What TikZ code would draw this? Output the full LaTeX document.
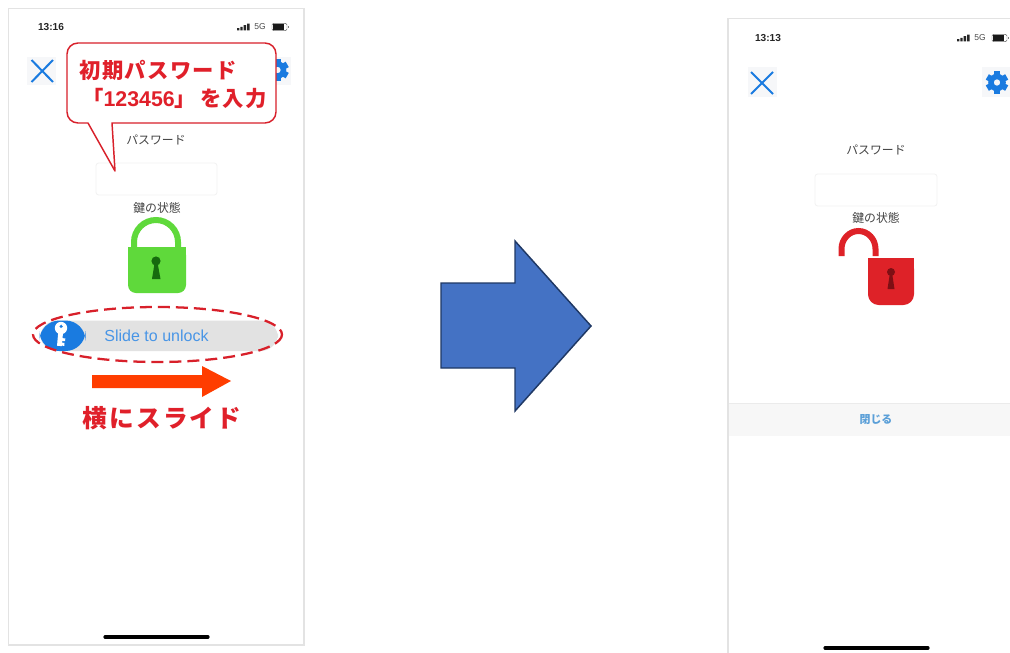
\documentclass[tikz,border=0pt]{standalone}
\usepackage{fontspec}
\setmainfont{Liberation Sans}
\newfontfamily\cjk{Noto Sans CJK JP}
\newfontfamily\cjkwide[LetterSpace=6]{Noto Sans CJK JP}
\newfontfamily\cjkslide[LetterSpace=9]{Noto Sans CJK JP}
\definecolor{framegray}{HTML}{E3E3E3}
\definecolor{iconbg}{HTML}{F6F7F9}
\definecolor{iosblue}{HTML}{1A7BE0}
\definecolor{calloutred}{HTML}{D8202A}
\definecolor{textred}{HTML}{E0202A}
\definecolor{slidegray}{HTML}{E2E2E2}
\definecolor{lockgreen}{HTML}{5FD93B}
\definecolor{keygreen}{HTML}{166B0E}
\definecolor{lockred}{HTML}{DE2228}
\definecolor{keyred}{HTML}{7E0F14}
\definecolor{arrowblue}{HTML}{4472C4}
\definecolor{arrowedge}{HTML}{1F3864}
\definecolor{slidearrow}{HTML}{FF3D00}
\definecolor{closebar}{HTML}{F7F7F7}
\definecolor{closetext}{HTML}{5A9FD8}
\definecolor{inputline}{HTML}{F2F2F2}
\definecolor{labeltext}{HTML}{444444}
\tikzset{
  x=0.75pt,y=-0.75pt,
  phone/.style={draw=framegray,line width=1.1pt,fill=white},
  clock/.style={font=\fontsize{7.6pt}{9pt}\selectfont\bfseries,text=black!85,inner sep=0pt},
  fiveg/.style={font=\fontsize{6.4pt}{8pt}\selectfont,text=black!70,inner sep=0pt},
  jplabel/.style={font=\cjk\fontsize{8.9pt}{10pt}\selectfont,text=labeltext,inner sep=0pt},
  inputbox/.style={draw=inputline,line width=.6pt,rounded corners=2pt,fill=white},
  closeicon/.style={draw=iosblue,line width=1.5pt},
  homebar/.style={draw=black,line width=2.4pt,line cap=round},
  callouttext/.style={font=\cjkwide\bfseries\fontsize{16pt}{18pt}\selectfont,text=textred,inner sep=0pt},
}
\newcommand{\gearicon}[2]{%
  \begin{scope}[shift={(#1,#2)}]
    \foreach \a in {0,60,...,300}{\fill[iosblue,rotate=\a] (-3.1,-11.2) rectangle (3.1,-5);}
    \fill[iosblue,even odd rule] (0,0) circle[radius=8.8] (0,0) circle[radius=3.3];
  \end{scope}}
\newcommand{\statusicons}[2]{%
  \begin{scope}[shift={(#1,#2)}]
    \fill[black!85] (0,1) rectangle (2.4,3.4) (3.3,-.2) rectangle (5.7,3.4) (6.6,-1.8) rectangle (9,3.4) (10,-3.4) rectangle (12.6,3.4);
    \node[fiveg,anchor=west] (five#1) at (17,0) {5G};
    \draw[black!60,line width=.35pt,rounded corners=1pt] (35,-3.6) rectangle (50,3.6);
    \fill[black!90] (35.5,-3.2) rectangle (47,3.2);
    \fill[black!50] (51,-1.3) rectangle (52,1.3);
  \end{scope}}
\begin{document}
\begin{tikzpicture}
\useasboundingbox (0,0) rectangle (1010,653);
\fill[white] (0,0) rectangle (1010,653);

% left phone
\draw[phone] (8.5,8.5) rectangle (304,645);
\node[clock] (timeL) at (51,27) {13:16};
\statusicons{237}{27}
\fill[iconbg] (27,57) rectangle (56,85);
\draw[closeicon] (31.5,60) -- (53,82) (53,60) -- (31.5,82);
\fill[iconbg] (268,57) rectangle (291,85);
\gearicon{277.5}{70}
\node[jplabel] (pwL) at (156,140) {パスワード};
\draw[inputbox] (96,163) rectangle (217,195);
\node[jplabel] (stateL) at (157,208) {鍵の状態};
% callout
\draw[calloutred,line width=1.1pt,fill=white,line join=round]
  (78,43) -- (265,43) arc[start angle=-90,end angle=0,radius=11] -- (276,112)
  arc[start angle=0,end angle=90,radius=11] -- (112,123) -- (115,171) -- (88,123) -- (78,123)
  arc[start angle=90,end angle=180,radius=11] -- (67,54) arc[start angle=180,end angle=270,radius=11] -- cycle;
\node[callouttext,anchor=west] (c1) at (79.5,70) {初期パスワード};
\node[callouttext,anchor=west] (c2) at (82,98) {「{\setmainfont{Liberation Sans}\fontsize{16pt}{18pt}\selectfont\bfseries 123456}」\hspace{3pt}を入力};
% green lock
\draw[lockgreen,line width=4.5pt] (134,248) -- (134,242) arc[start angle=180,end angle=360,x radius=22,y radius=22] -- (178,248);
\fill[lockgreen,rounded corners=6pt] (128,247) -- (186,247) -- (186,293) -- (128,293) -- cycle;
\fill[lockgreen] (128,247) rectangle (186,262);
\fill[keygreen] (156,261) circle[radius=4.6] (154.6,263) -- (157.6,263) -- (160.5,279) -- (152,279) -- cycle;
% slider
\fill[slidegray,rounded corners=13pt] (40,320.5) rectangle (278,351);
\fill[iosblue,rounded corners=15pt] (39.5,320.5) rectangle (85.5,351);
\begin{scope}[shift={(61,328)},rotate=-5]
  \fill[white] (0,0) circle[radius=6.2];
  \fill[white] (-2.4,3) rectangle (2.4,18);
  \fill[white] (2,10) rectangle (5.2,12.8) (2,14.5) rectangle (4.8,17.5);
  \fill[iosblue] (0,-1.6) circle[radius=1.7];
\end{scope}
\node[font=\fontsize{12pt}{14pt}\selectfont,text=iosblue!80!white,inner sep=0pt] (slide) at (156.5,336) {Slide to unlock};
\draw[calloutred,line width=1.7pt,dash pattern=on 9pt off 4.5pt] (157.5,334.5) ellipse[x radius=124.5,y radius=27.5];
\fill[slidearrow] (92,375) -- (202,375) -- (202,366) -- (231,381) -- (202,397) -- (202,388) -- (92,388) -- cycle;
\node[font=\cjkslide\bfseries\fontsize{18.5pt}{20pt}\selectfont,text=textred,inner sep=0pt] (slidelabel) at (162,418) {横にスライド};
\draw[homebar] (105,637) -- (208,637);

% big arrow
\draw[arrowedge,fill=arrowblue,line width=1.1pt,line join=miter] (441,283) -- (515,283) -- (515,241) -- (591,326) -- (515,411) -- (515,368) -- (441,368) -- cycle;

% right phone
\fill[white] (728,18) rectangle (1010,653);
\draw[framegray,line width=1.1pt] (728,653) -- (728,18.5) -- (1010,18.5);
\node[clock] (timeR) at (768,38) {13:13};
\statusicons{957}{38}
\fill[iconbg] (748,67) rectangle (777,97);
\draw[closeicon] (751,72) -- (773,94) (773,72) -- (751,94);
\fill[iconbg] (982,67) rectangle (1010,97);
\gearicon{997}{82.5}
\node[jplabel] (pwR) at (876,150) {パスワード};
\draw[inputbox] (815,174) rectangle (937,206);
\node[jplabel] (stateR) at (876,218) {鍵の状態};
% red lock
\draw[lockred,line width=4.5pt] (841.5,256) -- (841.5,249) arc[start angle=180,end angle=360,x radius=17,y radius=18] -- (875.5,256);
\fill[lockred,rounded corners=8pt] (868,258) -- (914,258) -- (914,305) -- (868,305) -- cycle;
\fill[lockred] (868,258) rectangle (914,275);
\fill[keyred] (891,272) circle[radius=4] (889.8,274) -- (892.2,274) -- (894.5,289) -- (887.5,289) -- cycle;
% close bar
\fill[closebar] (728.5,403) rectangle (1010,436);
\draw[black!8,line width=.5pt] (728.5,403) -- (1010,403);
\node[font=\cjk\bfseries\fontsize{8.2pt}{10pt}\selectfont,text=closetext,inner sep=0pt] (closeR) at (876,420) {閉じる};
\draw[homebar] (825,648) -- (928,648);
\end{tikzpicture}
\end{document}
